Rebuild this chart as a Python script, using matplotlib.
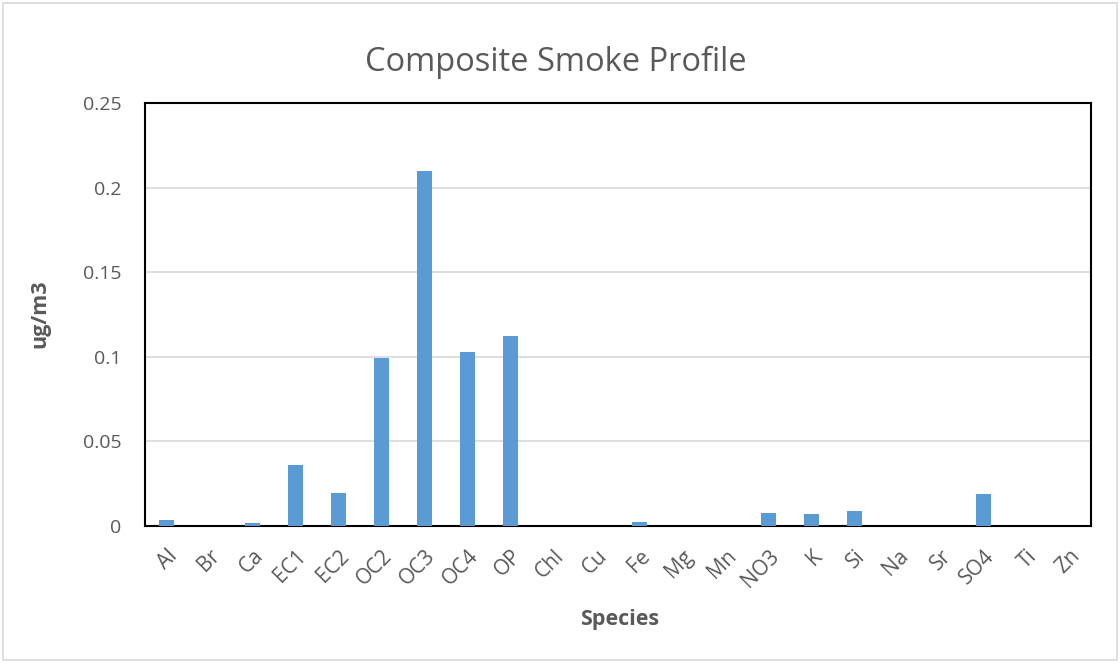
import matplotlib
matplotlib.use("Agg")
import matplotlib.pyplot as plt
from matplotlib.patches import Rectangle

species = ["Al", "Br", "Ca", "EC1", "EC2", "OC2", "OC3", "OC4", "OP", "Chl", "Cu",
           "Fe", "Mg", "Mn", "NO3", "K", "Si", "Na", "Sr", "SO4", "Ti", "Zn"]
values = [0.0035, 0.0, 0.002, 0.036, 0.0195, 0.0993, 0.2098, 0.1028, 0.1123, 0.0, 0.0,
          0.0024, 0.0, 0.0, 0.0077, 0.0073, 0.0089, 0.0, 0.0, 0.0189, 0.0, 0.0]
yticks = [0, 0.05, 0.1, 0.15, 0.2, 0.25]
ytick_labels = ["0", "0.05", "0.1", "0.15", "0.2", "0.25"]

plt.rcParams['font.family'] = ['Open Sans', 'DejaVu Sans']
txt = '#595959'

fig = plt.figure(figsize=(11.2, 6.64), dpi=100)
W, H = 1120, 664
ax = fig.add_axes([145 / W, 1 - 526 / H, (1091 - 145) / W, (526 - 103) / H])

x = list(range(len(species)))
ax.bar(x, values, width=0.33, color='#5b9bd5', zorder=3)
ax.set_xlim(-0.5, len(species) - 0.5)
ax.set_ylim(0, 0.25)
ax.set_yticks(yticks)
ax.set_yticklabels(ytick_labels)
ax.set_xticks(x)
ax.set_xticklabels(species, rotation=45, ha='right', rotation_mode='anchor')
ax.tick_params(axis='y', length=0, colors=txt, labelsize=14, pad=17)
ax.tick_params(axis='x', length=0, colors=txt, labelsize=15, pad=14)
ax.yaxis.grid(True, color='#d9d9d9', linewidth=1.2, zorder=0)
ax.set_axisbelow(True)
for s in ax.spines.values():
    s.set_color('black')
    s.set_linewidth(1.5)

fig.text(620 / W, 1 - 619 / H, "Species", fontsize=15.5, fontweight='bold', color=txt,
         ha='center', va='center')
fig.text(40 / W, 1 - 314 / H, "ug/m3", fontsize=15.5, fontweight='bold', color=txt,
         ha='center', va='center', rotation=90)
fig.text(556 / W, 1 - 62 / H, "Composite Smoke Profile", fontsize=23.5, color=txt,
         ha='center', va='center')

fig.patches.append(Rectangle((0.003, 0.006), 0.994, 0.99, transform=fig.transFigure,
                             fill=False, edgecolor='#d9d9d9', linewidth=1.2))

fig.savefig("out.png", dpi=100)
